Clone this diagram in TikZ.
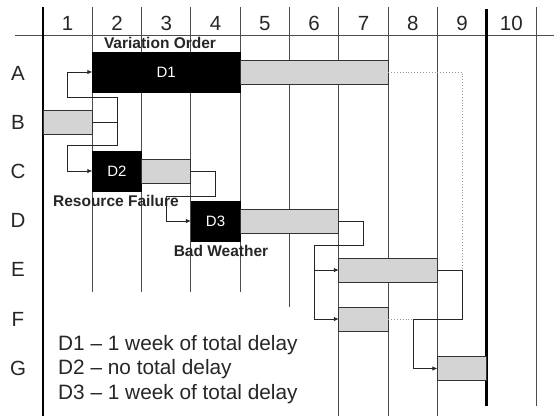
\documentclass[tikz,border=0pt]{standalone}
\usepackage{fontspec}
\setmainfont{Liberation Sans}
\usetikzlibrary{arrows.meta}
\begin{document}
\begin{tikzpicture}[x=1pt,y=-1pt,
  gridline/.style={draw=black!70, line width=0.9pt},
  blackbar/.style={draw=black, fill=black, inner sep=0pt, outer sep=0pt, minimum height=40pt, text=white, font=\fontsize{15}{16}\selectfont},
  graybar/.style={draw=black!80, fill=black!17, line width=0.9pt, inner sep=0pt, outer sep=0pt, minimum height=24pt},
  conn/.style={draw=black!85, line width=0.9pt},
  arr/.style={conn, -{Latex[length=5pt,width=4.5pt]}},
  dots/.style={draw=black!40, line width=0.9pt, dotted},
  head/.style={font=\fontsize{20.5}{22}\selectfont, text=black!85, anchor=base, inner sep=0pt},
  cause/.style={font=\bfseries\fontsize{15.5}{17}\selectfont, text=black!85, anchor=base, inner sep=0pt},
  legend/.style={font=\fontsize{20.8}{22}\selectfont, text=black!85, anchor=base west, inner sep=0pt}
]
\useasboundingbox (0,0) rectangle (554,416);
\fill[white] (0,0) rectangle (554,416);

% header line
\draw[gridline] (15,35) -- (554,35);
% vertical grid lines
\draw[draw=black, line width=1.8pt] (43,7) -- (43,416);
\foreach \x in {92.3,141.6,190.9,240.2} \draw[gridline] (\x,7) -- (\x,292);
\draw[gridline] (289.5,7) -- (289.5,307);
\foreach \x in {338.8,388.1,437.4} \draw[gridline] (\x,7) -- (\x,416);
\draw[draw=black, line width=3pt] (486.7,9) -- (486.7,406);
\draw[gridline] (536,7) -- (536,406);

% header numbers and row labels
\foreach \i in {1,...,10} \node[head] (h\i) at ({43+49.3*(\i-0.5)}, 30) {\i};
\foreach \l [count=\r from 0] in {A,B,C,D,E,F,G} \node[head] (r\l) at (18, {80+49.2*\r}) {\l};

% bars
\node[blackbar, minimum width=147.9pt] (A1) at (166.25,72) {D1};
\node[graybar, minimum width=147.9pt] (A2) at (314.15,72) {};
\node[graybar, minimum width=49.3pt] (B) at (67.65,122) {};
\node[blackbar, minimum width=49.3pt] (C1) at (116.95,171) {D2};
\node[graybar, minimum width=49.3pt] (C2) at (166.25,171) {};
\node[blackbar, minimum width=49.3pt] (D1) at (215.55,221) {D3};
\node[graybar, minimum width=98.6pt] (D2) at (289.5,221) {};
\node[graybar, minimum width=98.6pt] (E) at (388.1,270) {};
\node[graybar, minimum width=49.3pt] (F) at (363.45,319) {};
\node[graybar, minimum width=49.3pt] (G) at (462.05,368.5) {};

% dotted float lines
\coordinate (fA) at (462,270);
\draw[dots] (A2.east) -| (fA);
\coordinate (fF) at (413,319);
\draw[dots] (F.east) -- (fF);

% connectors
\coordinate (jB) at (117,122);
\draw[conn] (B.east) -- (jB);
\draw[arr] (jB) |- (67,97) |- (A1.west);
\draw[arr] (jB) |- (67,145) |- (C1.west);
\draw[arr] (C2.east) -| (215,196) -- (166,196) |- (D1.west);
\coordinate (jD) at (314,270);
\draw[conn] (D2.east) -| (363,245) -- (314,245) -- (jD);
\draw[arr] (jD) -- (E.west);
\draw[arr] (jD) |- (F.west);
\draw[arr] (E.east) -| (462,319) -- (fF) |- (G.west);

% cause labels
\node[cause] (vo) at (160,48) {Variation Order};
\node[cause] (rf) at (116,206) {Resource Failure};
\node[cause] (bw) at (221,256) {Bad Weather};

% legend
\node[legend] (l1) at (58,350) {D1 – 1 week of total delay};
\node[legend] (l2) at (58,374) {D2 – no total delay};
\node[legend] (l3) at (58,399) {D3 – 1 week of total delay};
\end{tikzpicture}
\end{document}
